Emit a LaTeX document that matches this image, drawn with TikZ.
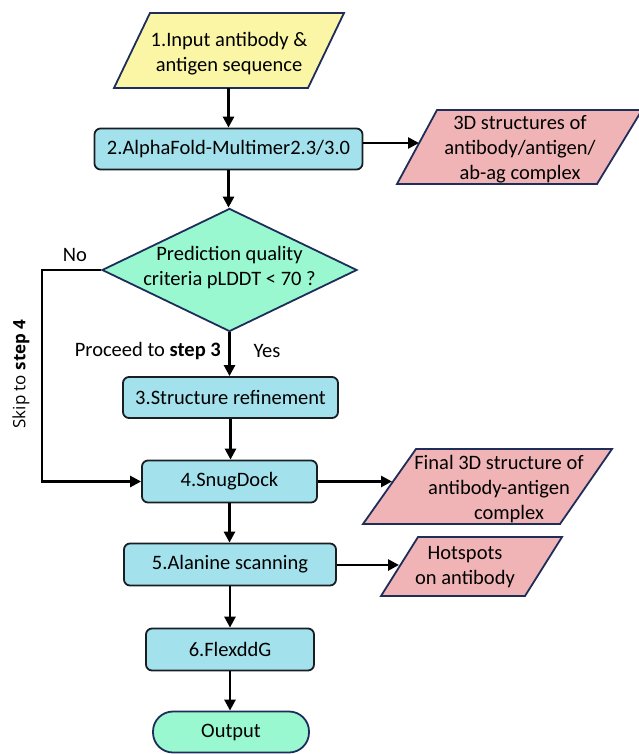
\documentclass[tikz,border=0pt]{standalone}
\usepackage{fontspec}
\setmainfont{Carlito}
\newfontfamily\skipfont{Open Sans}
\usetikzlibrary{arrows.meta,shapes.geometric}
\definecolor{boxfill}{RGB}{163,225,236}
\definecolor{boxline}{RGB}{25,30,35}
\definecolor{diafill}{RGB}{153,248,208}
\definecolor{navyline}{RGB}{30,45,90}
\definecolor{yellowfill}{RGB}{250,246,166}
\definecolor{pinkfill}{RGB}{241,180,182}
\begin{document}
\begin{tikzpicture}[x=1pt,y=-1pt,
  txt/.style={font=\fontsize{20.5}{25}\selectfont, align=center, inner sep=0pt},
  skiptxt/.style={font=\skipfont\fontsize{17}{20}\selectfont, inner sep=0pt},
  procbox/.style={draw=boxline, line width=1.8pt, fill=boxfill, rounded corners=6pt,
    inner sep=0pt, font=\fontsize{20.5}{25}\selectfont, minimum height=41pt},
  outbox/.style={draw=navyline, line width=1.8pt, fill=diafill, rounded corners=20pt,
    inner sep=0pt, font=\fontsize{20.5}{25}\selectfont},
  decision/.style={diamond, draw=navyline, line width=1.8pt, fill=diafill, inner sep=0pt},
  para/.style={draw=navyline, line width=1.8pt, line join=miter},
  conn/.style={line width=2.6pt, draw=black, line join=miter},
  arr/.style={conn, -{Triangle[length=11pt,width=11pt]}}]

\useasboundingbox (0,0) rectangle (638,754);
\fill[white] (0,0) rectangle (638,754);

% step 1 input
\draw[para, fill=yellowfill] (150,13) -- (344,13) -- (308,88) -- (114,88) -- cycle;
\node[txt] (y1) at (229,54) {1.Input antibody \&\\antigen sequence};
\coordinate (y1b) at (228.5,88);

% process boxes
\node[procbox, minimum width=268pt] (n2) at (228.5,149) {2.AlphaFold-Multimer2.3/3.0};
\node[decision, minimum width=255pt, minimum height=123pt] (dia) at (229.5,270) {};
\node[txt] (diatxt) at (229.5,268) {Prediction quality\\criteria pLDDT < 70 ?};
\node[procbox, minimum width=215pt] (n3) at (230.5,397.5) {3.Structure refinement};
\node[procbox, minimum width=175pt, minimum height=42pt] (n4) at (229.5,481.5) {4.SnugDock};
\node[procbox, minimum width=212pt, minimum height=42pt] (n5) at (230,564.5) {5.Alanine scanning};
\node[procbox, minimum width=168pt, minimum height=42pt] (n6) at (230,649.5) {6.FlexddG};
\node[outbox, minimum width=156pt, minimum height=41pt] (out) at (231,732) {Output};

% output parallelograms
\draw[para, fill=pinkfill] (437,110) -- (642,110) -- (597,184) -- (397,184) -- cycle;
\node[txt] (p1) at (520,149) {3D structures of\\antibody/antigen/\\ab-ag complex};
\coordinate (p1in) at (419,143);

\draw[para, fill=pinkfill] (416,449) -- (612,449) -- (560,524) -- (363,524) -- cycle;
\node[txt] (p2) at (499,489) {Final 3D structure of\\antibody-antigen\\\hspace*{20pt}complex};
\coordinate (p2in) at (392,481.5);

\draw[para, fill=pinkfill] (418,537) -- (562,537) -- (525,596) -- (381,596) -- cycle;
\node[txt] (p3) at (465,567) {Hotspots\\on antibody};
\coordinate (p3in) at (399,565);

% labels
\node[txt] (no) at (75,255) {No};
\node[txt, anchor=east] (proc) at (221,351) {Proceed to \textbf{step 3}};
\node[txt] (yes) at (267,351) {Yes};
\node[skiptxt, rotate=90] (skip) at (21,374) {Skip to \textbf{step 4}};

% connectors
\coordinate (lc1) at (42,270);
\coordinate (lc2) at (42,481.5);
\draw[arr] (y1b) -- (y1b |- n2.north);
\draw[arr] (n2.south) -- (n2.south |- dia.north);
\draw[arr] (n2.east |- p1in) -- (p1in);
\draw[arr] (dia.south) -- (dia.south |- n3.north);
\draw[arr] (n3.south) -- (n3.south |- n4.north);
\draw[arr] (dia.west) -- (lc1) -- (lc2) -- (n4.west);
\draw[arr] (n4.east) -- (p2in);
\draw[arr] (n4.south) -- (n4.south |- n5.north);
\draw[arr] (n5.east |- p3in) -- (p3in);
\draw[arr] (n5.south) -- (n5.south |- n6.north);
\draw[arr] (n6.south) -- (n6.south |- out.north);
\end{tikzpicture}
\end{document}
